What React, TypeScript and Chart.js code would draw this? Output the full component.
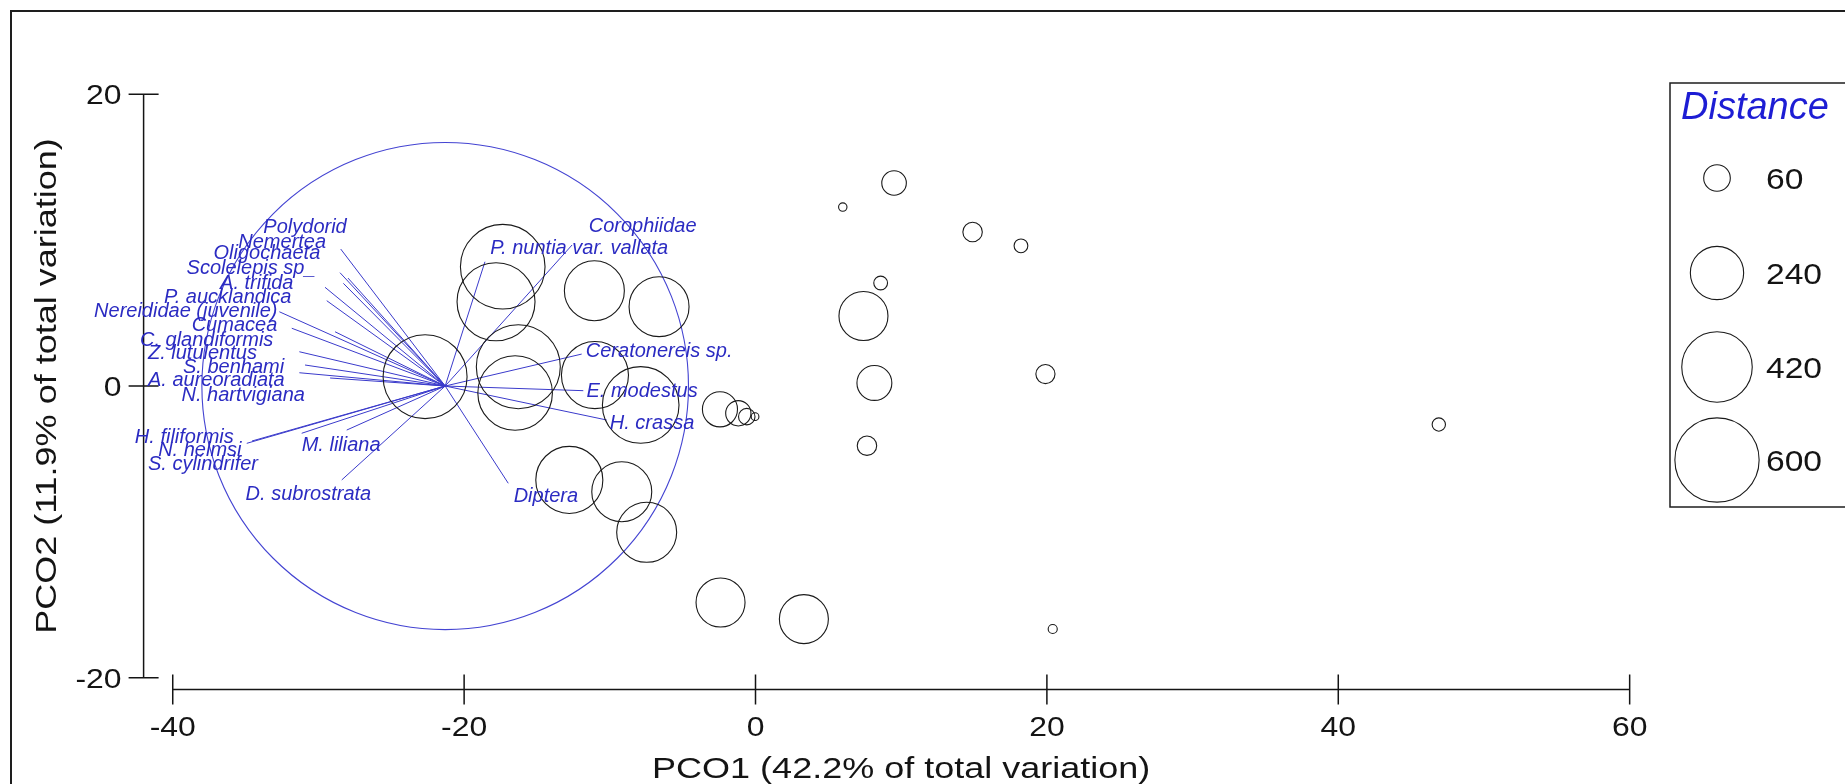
import React, { useEffect, useRef } from 'react';
import { Chart, registerables } from 'chart.js';

Chart.register(...registerables);

// Site scores on PCO1 / PCO2 and the distance value that sets bubble size
const siteX = [
  -17.35, -17.81, -11.06, -6.62, -22.68, -16.28, -16.5, -11.02, -7.88, -2.44, -1.18, -0.6, -0.03,
  -12.78, -9.18, -7.47, 9.51, 5.99, 14.9, 18.22, 8.59, 7.41, 8.16, 19.9, 7.65, 46.9, 20.4, -2.4, 3.32,
];
const siteY = [
  8.18, 5.78, 6.53, 5.44, 0.64, 1.32, -0.48, 0.75, -1.3, -1.6, -1.87, -2.1, -2.1,
  -6.44, -7.25, -10.03, 13.92, 12.27, 10.56, 9.61, 7.06, 4.8, 0.21, 0.82, -4.09, -2.64, -16.66, -14.84, -15.98,
];
const siteDistance = [
  605, 514, 304, 304, 596, 596, 470, 380, 496, 104, 54, 23, 5,
  380, 304, 304, 51, 6, 32, 16, 16, 203, 103, 31, 32, 15, 7, 203, 203,
];

// Species correlation vectors (end points) drawn from the vector origin
const speciesNames = [
  'Polydorid', 'Nemertea', 'Oligochaeta', 'Scolelepis sp_', 'A. trifida', 'P. aucklandica',
  'Nereididae (juvenile)', 'Cumacea', 'C. glandiformis', 'Z. lutulentus', 'S. benhami',
  'A. aureoradiata', 'N. hartvigiana', 'H. filiformis', 'N. helmsi', 'S. cylindrifer',
  'M. liliana', 'D. subrostrata', 'Diptera', 'P. nuntia var. vallata', 'Corophiidae',
  'Ceratonereis sp.', 'E. modestus', 'H. crassa',
];
const vectorX = [
  -28.47, -28.52, -28.29, -27.97, -29.55, -29.43, -32.68, -31.83, -31.31, -28.86, -30.92,
  -31.31, -29.2, -34.92, -34.56, -31.15, -28.06, -28.4, -16.97, -18.57, -12.59, -11.93, -11.82, -10.21,
];
const vectorY = [
  9.39, 7.77, 7.04, 7.4, 6.77, 5.85, 5.09, 3.96, 2.35, 3.72, 1.44,
  0.91, 0.55, -3.93, -3.77, -3.24, -3.02, -6.44, -6.67, 8.52, 9.67, 2.19, -0.32, -2.33,
];
// Where each species name is written (left edge, baseline), in axis units
const labelX = [
  -33.78, -35.5, -37.2, -39.05, -36.75, -40.6, -45.4, -38.7, -42.25, -41.7, -39.3,
  -41.7, -39.4, -42.6, -41.0, -41.7, -31.15, -35.0, -16.6, -18.2, -11.45, -11.65, -11.6, -10.0,
];
const labelY = [
  10.47, 9.48, 8.68, 7.68, 6.66, 5.66, 4.75, 3.8, 2.76, 1.83, 0.91,
  0.0, -1.01, -3.89, -4.8, -5.76, -4.43, -7.82, -7.98, 9.02, 10.54, 2.0, -0.78, -2.97,
];

const vectorOrigin = { x: -21.3, y: 0 };
const circleRadius = 16.7;

const xTicks = [-40, -20, 0, 20, 40, 60];
const yTicks = [-20, 0, 20];
const legendValues = [60, 240, 420, 600];

const xTitle = 'PCO1 (42.2% of total variation)';
const yTitle = 'PCO2 (11.9% of total variation)';
const legendTitle = 'Distance';

const FONT = '"Liberation Sans", Arial, Helvetica, sans-serif';
const BLUE_TEXT = '#2b2bc2';
const BLUE_LINE = '#3a3acb';
const INK = '#141414';

const bubbleRadius = (d: number) => 1.72 * Math.sqrt(d);

function stretchedText(
  ctx: CanvasRenderingContext2D,
  text: string,
  x: number,
  y: number,
  font: string,
  stretch: number,
  align: 'left' | 'center' | 'right',
) {
  ctx.save();
  ctx.font = font;
  const w = ctx.measureText(text).width * stretch;
  let left = x;
  if (align === 'center') left = x - w / 2;
  if (align === 'right') left = x - w;
  ctx.translate(left, y);
  ctx.scale(stretch, 1);
  ctx.textAlign = 'left';
  ctx.textBaseline = 'alphabetic';
  ctx.fillText(text, 0, 0);
  ctx.restore();
}

const framePlugin = {
  id: 'pcoFrame',
  beforeDatasetsDraw(chart: any) {
    const ctx: CanvasRenderingContext2D = chart.ctx;
    const xs = chart.scales.x;
    const ys = chart.scales.y;
    ctx.save();

    // outer border
    ctx.strokeStyle = '#1e1e1e';
    ctx.lineWidth = 2;
    ctx.strokeRect(11, 11, chart.width + 20, chart.height + 20);

    // detached axes
    ctx.strokeStyle = INK;
    ctx.lineWidth = 1.5;
    const yAxisX = xs.left;
    const xAxisY = ys.bottom;
    ctx.beginPath();
    ctx.moveTo(yAxisX, ys.getPixelForValue(yTicks[yTicks.length - 1]));
    ctx.lineTo(yAxisX, ys.getPixelForValue(yTicks[0]));
    ctx.moveTo(xs.getPixelForValue(xTicks[0]), xAxisY);
    ctx.lineTo(xs.getPixelForValue(xTicks[xTicks.length - 1]), xAxisY);
    for (const t of yTicks) {
      const py = ys.getPixelForValue(t);
      ctx.moveTo(yAxisX - 15, py);
      ctx.lineTo(yAxisX + 15, py);
    }
    for (const t of xTicks) {
      const px = xs.getPixelForValue(t);
      ctx.moveTo(px, xAxisY - 15);
      ctx.lineTo(px, xAxisY + 15);
    }
    ctx.stroke();

    ctx.fillStyle = INK;
    const tickFont = `28px ${FONT}`;
    for (const t of yTicks) {
      stretchedText(ctx, String(t), yAxisX - 22, ys.getPixelForValue(t) + 10, tickFont, 1.14, 'right');
    }
    for (const t of xTicks) {
      stretchedText(ctx, String(t), xs.getPixelForValue(t), xAxisY + 47, tickFont, 1.14, 'center');
    }

    const titleFont = `30px ${FONT}`;
    stretchedText(
      ctx, xTitle,
      (xs.getPixelForValue(xTicks[0]) + xs.getPixelForValue(xTicks[xTicks.length - 1])) / 2,
      xAxisY + 89, titleFont, 1.2, 'center',
    );
    ctx.save();
    ctx.translate(55.5, (ys.getPixelForValue(yTicks[0]) + ys.getPixelForValue(yTicks[yTicks.length - 1])) / 2);
    ctx.rotate(-Math.PI / 2);
    stretchedText(ctx, yTitle, 0, 0, titleFont, 1.2, 'center');
    ctx.restore();

    // correlation circle around the vector origin
    const cx = xs.getPixelForValue(vectorOrigin.x);
    const cy = ys.getPixelForValue(vectorOrigin.y);
    const rx = xs.getPixelForValue(vectorOrigin.x + circleRadius) - cx;
    const ry = cy - ys.getPixelForValue(vectorOrigin.y + circleRadius);
    ctx.strokeStyle = '#4444d2';
    ctx.lineWidth = 1.1;
    ctx.beginPath();
    ctx.ellipse(cx, cy, rx, ry, 0, 0, Math.PI * 2);
    ctx.stroke();
    ctx.restore();
  },
  afterDatasetsDraw(chart: any) {
    const ctx: CanvasRenderingContext2D = chart.ctx;
    const xs = chart.scales.x;
    const ys = chart.scales.y;
    ctx.save();

    // species names
    ctx.fillStyle = BLUE_TEXT;
    ctx.font = `italic 20px ${FONT}`;
    ctx.textAlign = 'left';
    ctx.textBaseline = 'alphabetic';
    speciesNames.forEach((name, i) => {
      ctx.fillText(name, xs.getPixelForValue(labelX[i]), ys.getPixelForValue(labelY[i]));
    });

    // bubble size key
    const boxLeft = 1670;
    const boxTop = 83;
    const boxBottom = 507;
    ctx.strokeStyle = '#1e1e1e';
    ctx.lineWidth = 1.5;
    ctx.strokeRect(boxLeft, boxTop, chart.width, boxBottom - boxTop);

    ctx.fillStyle = '#1d1dd4';
    ctx.font = `italic 38px ${FONT}`;
    ctx.fillText(legendTitle, 1681, 119);

    const rowY = [178, 273, 367, 460];
    ctx.strokeStyle = '#1a1a1a';
    ctx.lineWidth = 1.1;
    ctx.fillStyle = INK;
    legendValues.forEach((v, i) => {
      ctx.beginPath();
      ctx.arc(1717, rowY[i], bubbleRadius(v), 0, Math.PI * 2);
      ctx.stroke();
      stretchedText(ctx, String(v), 1766, rowY[i] + 10.5, `30px ${FONT}`, 1.12, 'left');
    });
    ctx.restore();
  },
};

export default function App() {
  const canvasRef = useRef<HTMLCanvasElement | null>(null);

  useEffect(() => {
    const canvas = canvasRef.current;
    if (!canvas) return;

    const vectorSets = speciesNames.map((name, i) => ({
      type: 'line' as const,
      label: name,
      data: [
        { x: vectorOrigin.x, y: vectorOrigin.y },
        { x: vectorX[i], y: vectorY[i] },
      ],
      borderColor: BLUE_LINE,
      borderWidth: 1,
      pointRadius: 0,
      fill: false,
      tension: 0,
    }));

    const chart = new Chart(canvas, {
      type: 'bubble',
      data: {
        datasets: [
          {
            type: 'bubble' as const,
            label: 'Sites',
            data: siteX.map((x, i) => ({ x, y: siteY[i], r: bubbleRadius(siteDistance[i]) })),
            backgroundColor: 'rgba(0,0,0,0)',
            borderColor: '#1a1a1a',
            borderWidth: 1.1,
            clip: false,
          } as any,
          ...(vectorSets as any[]),
        ],
      },
      options: {
        responsive: false,
        animation: false,
        devicePixelRatio: 1,
        layout: { padding: { left: 143.6, right: 186.2, top: 94.3, bottom: 94.6 } },
        scales: {
          x: { type: 'linear', min: -42, max: 62, display: false },
          y: { type: 'linear', min: -20.8, max: 20, display: false },
        },
        plugins: {
          legend: { display: false },
          tooltip: { enabled: false },
        },
        events: [],
      },
      plugins: [framePlugin],
    });

    return () => chart.destroy();
  }, []);

  return (
    <div style={{ position: 'absolute', left: 0, top: 0, width: 1845, height: 784, background: '#ffffff' }}>
      <canvas ref={canvasRef} width={1845} height={784} style={{ display: 'block' }} />
    </div>
  );
}
